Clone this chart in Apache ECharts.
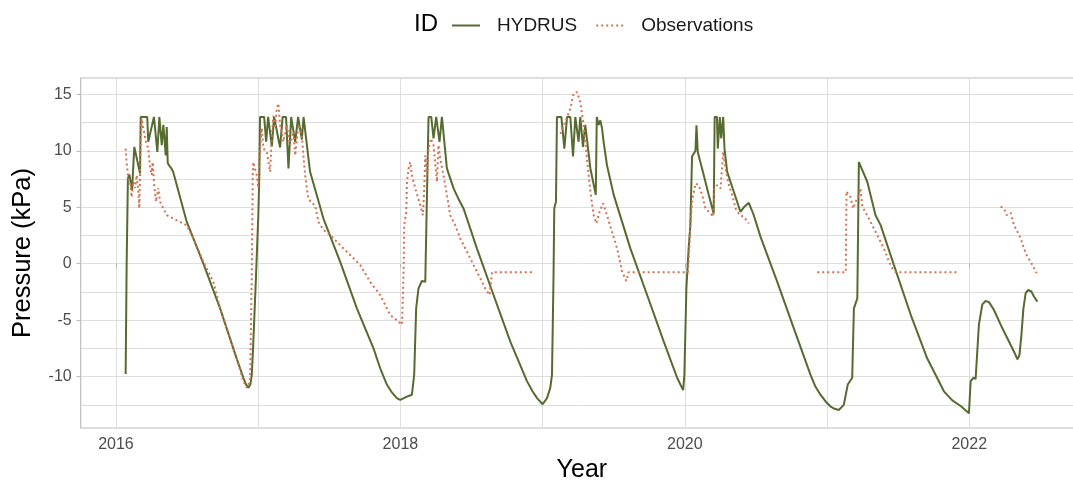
<!DOCTYPE html>
<html>
<head>
<meta charset="utf-8">
<script src="https://cdn.jsdelivr.net/npm/echarts@6/dist/echarts.min.js"></script>
<style>
  html, body { margin: 0; padding: 0; background: #fff; }
  #chart { width: 1073px; height: 485px; }
</style>
</head>
<body>
<div id="chart"></div>
<script>
// Simulated soil water pressure (HYDRUS) and measured pressure, in kPa, by decimal year.
const hydrusYear = [
  2016.068, 2016.075, 2016.084, 2016.094, 2016.113, 2016.129, 2016.169, 2016.174, 2016.220, 2016.227,
  2016.267, 2016.291, 2016.305, 2016.322, 2016.333, 2016.350, 2016.357, 2016.364, 2016.380, 2016.392,
  2016.403, 2016.498, 2016.614, 2016.732, 2016.849, 2016.896, 2016.915, 2016.931, 2016.945, 2016.955,
  2016.966, 2016.985, 2017.001, 2017.008, 2017.013, 2017.042, 2017.056, 2017.070, 2017.096, 2017.112,
  2017.154, 2017.172, 2017.196, 2017.213, 2017.232, 2017.260, 2017.281, 2017.307, 2017.319, 2017.330,
  2017.365, 2017.459, 2017.576, 2017.694, 2017.811, 2017.858, 2017.905, 2017.940, 2017.975, 2017.999,
  2018.046, 2018.081, 2018.097, 2018.111, 2018.127, 2018.151, 2018.175, 2018.185, 2018.198, 2018.217,
  2018.233, 2018.252, 2018.262, 2018.275, 2018.292, 2018.301, 2018.327, 2018.374, 2018.416, 2018.428,
  2018.444, 2018.538, 2018.655, 2018.773, 2018.890, 2018.929, 2018.961, 2019.000, 2019.031, 2019.054,
  2019.066, 2019.077, 2019.082, 2019.094, 2019.101, 2019.132, 2019.153, 2019.172, 2019.195, 2019.214,
  2019.230, 2019.244, 2019.253, 2019.265, 2019.276, 2019.284, 2019.300, 2019.336, 2019.374, 2019.381,
  2019.394, 2019.406, 2019.418, 2019.429, 2019.453, 2019.500, 2019.617, 2019.735, 2019.852, 2019.946,
  2019.988, 2019.997, 2020.011, 2020.027, 2020.039, 2020.051, 2020.063, 2020.075, 2020.082, 2020.091,
  2020.133, 2020.168, 2020.203, 2020.210, 2020.226, 2020.232, 2020.246, 2020.256, 2020.270, 2020.279,
  2020.298, 2020.344, 2020.391, 2020.415, 2020.450, 2020.485, 2020.532, 2020.650, 2020.766, 2020.884,
  2020.919, 2020.954, 2020.990, 2021.025, 2021.054, 2021.083, 2021.118, 2021.146, 2021.177, 2021.189,
  2021.213, 2021.224, 2021.236, 2021.283, 2021.341, 2021.377, 2021.470, 2021.588, 2021.705, 2021.822,
  2021.881, 2021.940, 2021.998, 2022.010, 2022.029, 2022.045, 2022.068, 2022.092, 2022.115, 2022.139,
  2022.174, 2022.221, 2022.268, 2022.315, 2022.339, 2022.353, 2022.367, 2022.381, 2022.397, 2022.413,
  2022.437, 2022.455, 2022.479
];
const hydrusValue = [
  -9.76, -0.1, 7.55, 7.9, 6.5, 10.35, 8.0, 13, 13, 10.8,
  13, 9.9, 13, 10.5, 12.3, 9.6, 12.1, 8.9, 8.6, 8.4,
  8.1, 3.7, 0.03, -3.95, -8.4, -10.1, -10.7, -10.97, -10.7, -9.85,
  -6.9, -1.0, 4.3, 7.85, 13, 13, 10.8, 13, 10.4, 13,
  10.3, 13, 13, 8.44, 13, 10.8, 13, 11.0, 13, 13,
  8.14, 4.0, 0.18, -3.95, -7.5, -9.26, -10.7, -11.4, -11.9, -12.06,
  -11.77, -11.6, -9.85, -3.95, -2.2, -1.53, -1.6, 4.9, 13, 13,
  11.1, 13, 13, 10.8, 13, 13, 8.44, 6.67, 5.55, 5.64,
  4.9, 1.36, -2.77, -6.9, -10.4, -11.3, -11.9, -12.45, -11.9, -11.0,
  -9.85, -1.0, 4.9, 5.5, 13, 13, 10.2, 13, 13, 9.5,
  13, 13, 10.8, 13, 13, 10.35, 12.3, 8.44, 6.1, 13,
  12.3, 12.7, 12.0, 10.8, 8.7, 6.1, 1.36, -2.77, -6.9, -10.1,
  -11.2, -9.85, -2.2, 1.36, 3.42, 9.5, 9.6, 10.0, 12.27, 9.9,
  7.85, 6.1, 4.46, 13, 13, 10.2, 13, 11.1, 13, 10.2,
  8.14, 6.4, 4.6, 5.0, 5.4, 4.3, 2.4, -1.6, -5.7, -9.85,
  -10.9, -11.6, -12.2, -12.65, -12.85, -12.95, -12.5, -10.7, -10.1, -3.95,
  -3.07, 9.0, 9.1, 7.26, 4.3, 3.42, -0.1, -4.5, -8.4, -11.3,
  -12.1, -12.6, -13.24, -10.4, -10.1, -10.2, -5.4, -3.6, -3.3, -3.4,
  -4.1, -5.4, -6.6, -7.8, -8.46, -8.1, -6.3, -3.95, -2.6, -2.33,
  -2.46, -2.9, -3.36
];

// Measured pressure; null marks a break in the record.
const obsYear = [
  2016.068, 2016.075, 2016.087, 2016.099, 2016.110, 2016.122, 2016.134, 2016.146, 2016.157, 2016.164,
  2016.174, 2016.181, 2016.192, 2016.211, 2016.227, 2016.239, 2016.251, 2016.258, 2016.267, 2016.281,
  2016.298, 2016.310, 2016.333, 2016.357, 2016.403, 2016.450, 2016.498, 2016.544, 2016.614, 2016.685,
  2016.732, 2016.802, 2016.849, 2016.896, 2016.920, 2016.943, 2016.955, 2016.962, 2016.966, 2016.978,
  2016.990, 2017.001, 2017.008, 2017.025, 2017.037, 2017.061, 2017.072, 2017.084, 2017.096, 2017.107,
  2017.119, 2017.131, 2017.142, 2017.154, 2017.166, 2017.177, 2017.201, 2017.224, 2017.248, 2017.260,
  2017.283, 2017.307, 2017.318, 2017.330, 2017.342, 2017.353, 2017.377, 2017.400, 2017.424, 2017.459,
  2017.506, 2017.576, 2017.647, 2017.717, 2017.787, 2017.858, 2017.928, 2017.975, 2018.011, 2018.022,
  2018.027, 2018.041, 2018.046, 2018.057, 2018.069, 2018.081, 2018.104, 2018.139, 2018.158, 2018.167,
  2018.175, 2018.187, 2018.198, 2018.215, 2018.233, 2018.257, 2018.268, 2018.280, 2018.303, 2018.327,
  2018.350, 2018.386, 2018.421, 2018.468, 2018.514, 2018.562, 2018.597, 2018.627, 2018.644, 2018.942,
  2019.030,
  2019.125, 2019.167, 2019.195, 2019.218, 2019.242, 2019.265, 2019.289, 2019.312, 2019.336, 2019.359,
  2019.378, 2019.401, 2019.425, 2019.453, 2019.488, 2019.524, 2019.559, 2019.589, 2019.605, 2020.022,
  2020.027, 2020.039, 2020.051, 2020.075, 2020.098, 2020.122, 2020.145, 2020.180, 2020.199, 2020.208,
  2020.227, 2020.251, 2020.270, 2020.286, 2020.310, 2020.333, 2020.357, 2020.386, 2020.415, 2020.450,
  2020.700,
  2020.931, 2021.132, 2021.137, 2021.146, 2021.165, 2021.184, 2021.201, 2021.217, 2021.235, 2021.247,
  2021.266, 2021.283, 2021.318, 2021.353, 2021.400, 2021.436, 2021.459, 2021.482, 2021.916,
  2022.050,
  2022.221, 2022.244, 2022.263, 2022.291, 2022.315, 2022.339, 2022.362, 2022.385, 2022.409, 2022.432,
  2022.456, 2022.474
];
const obsValue = [
  10.2, 9.0, 7.55, 7.26, 5.9, 7.26, 6.7, 7.85, 6.4, 4.9,
  10.8, 12.85, 12.0, 10.8, 10.2, 8.7, 7.85, 9.0, 7.26, 5.5,
  6.7, 5.5, 4.9, 4.3, 4.0, 3.7, 3.4, 2.25, 0.18, -1.6,
  -3.95, -6.6, -8.4, -10.4, -11.0, -10.4, -1.0, 7.85, 9.0, 8.4,
  7.85, 6.7, 9.3, 12.0, 10.2, 9.9, 9.0, 8.14, 11.4, 13.1,
  12.0, 13.75, 14.2, 12.3, 11.7, 10.8, 12.3, 10.5, 11.7, 9.6,
  12.3, 11.4, 9.6, 7.85, 6.7, 5.8, 5.35, 5.2, 3.7, 3.0,
  2.54, 1.65, 0.77, -0.1, -1.6, -2.77, -4.54, -5.0, -5.4, -1.0,
  3.4, 4.6, 7.26, 8.4, 9.0, 7.85, 6.7, 5.2, 4.3, 6.4,
  9.6, 7.85, 10.2, 11.1, 10.5, 7.26, 10.5, 9.3, 7.85, 6.1,
  4.3, 3.4, 2.25, 1.06, -0.1, -1.3, -2.2, -2.77, -0.75, -0.75,
  null,
  11.5, 12.8, 13.75, 15.08, 15.2, 14.3, 12.3, 9.3, 6.4, 4.3,
  3.57, 4.6, 5.35, 4.3, 2.83, 1.36, -0.7, -1.53, -0.75, -0.75,
  0.18, 3.4, 5.5, 7.1, 6.96, 6.1, 4.9, 4.46, 4.16, 6.67,
  6.96, 6.67, 9.9, 8.44, 6.96, 6.1, 4.9, 4.3, 4.16, 3.57,
  null,
  -0.75, -0.75, 6.4, 6.2, 5.9, 4.9, 5.5, 5.9, 6.67, 5.2,
  4.6, 4.3, 3.4, 2.54, 1.36, 0.18, -0.4, -0.75, -0.75,
  null,
  5.05, 4.9, 4.3, 4.5, 3.4, 2.83, 2.25, 1.36, 0.6, 0.18,
  -0.4, -0.83
];

// Axis breaks
const yearLabels = [2016, 2018, 2020, 2022];
const yearGrid = [2016, 2017, 2018, 2019, 2020, 2021, 2022];
const pressureLabels = [-10, -5, 0, 5, 10, 15];
const pressureGrid = [-12.5, -10, -7.5, -5, -2.5, 0, 2.5, 5, 7.5, 10, 12.5, 15];

const FONT = 'Liberation Sans, Arial, Helvetica, sans-serif';
const GREEN = '#556b2f';
const SALMON = '#d4714f';

const hydrusData = hydrusYear.map((x, i) => [x, hydrusValue[i]]);
const obsData = obsYear.map((x, i) => [x, obsValue[i] === null ? '-' : obsValue[i]]);

const chart = echarts.init(document.getElementById('chart'), null, { renderer: 'canvas' });

chart.setOption({
  animation: false,
  backgroundColor: '#ffffff',
  title: {
    text: 'ID',
    left: 409,
    top: 7,
    textStyle: { fontFamily: FONT, fontSize: 24, fontWeight: 'normal', color: '#000' }
  },
  legend: {
    left: 446,
    top: 11,
    itemWidth: 28,
    itemHeight: 12,
    itemGap: 18,
    itemStyle: { opacity: 0 },
    textStyle: { fontFamily: FONT, fontSize: 19, color: '#1a1a1a', padding: [0, 0, 0, 12] },
    data: ['HYDRUS', 'Observations']
  },
  grid: {
    left: 80.7,
    right: -10,
    top: 78,
    bottom: 57,
    outerBoundsMode: 'none',
    show: true,
    backgroundColor: '#fff',
    borderColor: '#bdbdbd',
    borderWidth: 1.2
  },
  xAxis: [
    {
      type: 'value',
      min: 2015.752,
      max: 2022.80,
      name: 'Year',
      nameLocation: 'middle',
      nameGap: 28,
      nameTextStyle: { fontFamily: FONT, fontSize: 25, color: '#000' },
      axisLine: { show: false },
      axisTick: { show: false, customValues: yearGrid },
      axisLabel: {
        customValues: yearLabels,
        margin: 9,
        fontFamily: FONT, fontSize: 16, color: '#4d4d4d',
        formatter: v => String(v)
      },
      splitLine: { show: true, lineStyle: { color: '#dedede', width: 1 } }
    },
    {
      type: 'value',
      min: 2015.752,
      max: 2022.80,
      position: 'bottom',
      axisLine: { show: false },
      axisTick: { show: true, customValues: yearLabels, length: 4, lineStyle: { color: '#b3b3b3', width: 1 } },
      axisLabel: { show: false },
      splitLine: { show: false }
    }
  ],
  yAxis: [
    {
      type: 'value',
      min: -14.55,
      max: 16.45,
      name: 'Pressure (kPa)',
      nameLocation: 'middle',
      nameGap: 45,
      nameRotate: 90,
      nameTextStyle: { fontFamily: FONT, fontSize: 25.5, color: '#000' },
      axisLine: { show: false },
      axisTick: { show: false, customValues: pressureGrid },
      axisLabel: {
        customValues: pressureLabels,
        margin: 9,
        fontFamily: FONT, fontSize: 16, color: '#4d4d4d',
        formatter: v => String(v)
      },
      splitLine: { show: true, lineStyle: { color: '#dedede', width: 1 } }
    },
    {
      type: 'value',
      min: -14.55,
      max: 16.45,
      position: 'left',
      axisLine: { show: false },
      axisTick: { show: true, customValues: pressureLabels, length: 4, lineStyle: { color: '#b3b3b3', width: 1 } },
      axisLabel: { show: false },
      splitLine: { show: false }
    }
  ],
  series: [
    {
      name: 'HYDRUS',
      type: 'line',
      xAxisIndex: 0,
      yAxisIndex: 0,
      symbol: 'none',
      data: hydrusData,
      lineStyle: { color: GREEN, width: 2 },
      itemStyle: { color: GREEN },
      z: 2
    },
    {
      name: 'Observations',
      type: 'line',
      xAxisIndex: 0,
      yAxisIndex: 0,
      symbol: 'none',
      connectNulls: false,
      data: obsData,
      lineStyle: { color: SALMON, width: 2, type: [2, 3] },
      itemStyle: { color: SALMON },
      z: 3
    }
  ]
});
</script>
</body>
</html>
